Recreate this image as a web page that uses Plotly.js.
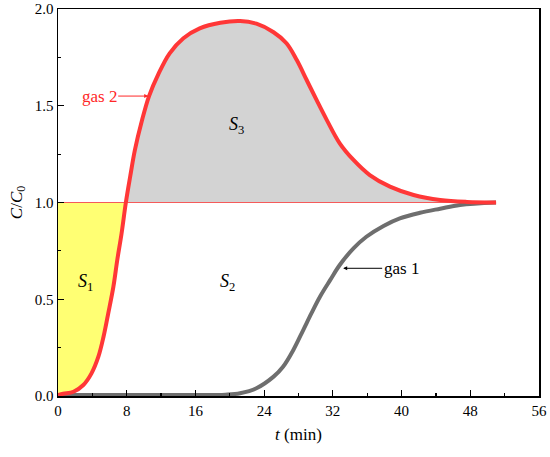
<!DOCTYPE html>
<html>
<head>
<meta charset="utf-8">
<script src="https://cdn.plot.ly/plotly-3.0.1.min.js"></script>
<style>
  body { margin: 0; background: #fff; }
  #graph { width: 550px; height: 457px; }
</style>
</head>
<body>
<div id="graph"></div>
<script>
// gas 2 breakthrough curve (red)
var t2 = [0, 0.6, 1.8, 2.95, 3.9, 4.7, 5.3, 5.85, 6.45, 6.9, 7.4, 7.9, 8.4, 8.95, 9.75, 10.6, 11.7, 13.0, 14.6, 16.5, 18.9, 21.2, 23.1, 25.1, 26.6, 27.8, 28.95, 30.1, 31.3, 32.8, 34.4, 36.3, 38.65, 41.4, 44.5, 47.6, 51.0];
var c2 = [0.005, 0.012, 0.022, 0.057, 0.117, 0.203, 0.306, 0.427, 0.565, 0.703, 0.84, 1.0, 1.133, 1.271, 1.42, 1.55, 1.665, 1.771, 1.849, 1.90, 1.929, 1.938, 1.924, 1.88, 1.823, 1.736, 1.633, 1.53, 1.426, 1.306, 1.22, 1.142, 1.082, 1.039, 1.013, 1.003, 1.0];

// gas 1 breakthrough curve (grey)
var t1 = [0, 8, 16, 19.5, 21.2, 23.1, 25.1, 26.2, 27.4, 28.55, 29.5, 30.5, 31.7, 32.8, 34.4, 35.9, 37.9, 39.8, 42.15, 44.5, 46.8, 51.0];
var c1 = [0.005, 0.005, 0.005, 0.007, 0.014, 0.04, 0.10, 0.151, 0.238, 0.341, 0.427, 0.513, 0.60, 0.677, 0.763, 0.823, 0.879, 0.918, 0.947, 0.968, 0.987, 1.0];

var xTicks = [0, 8, 16, 24, 32, 40, 48, 56];
var yTicks = [0.0, 0.5, 1.0, 1.5, 2.0];
var yTickText = ['0.0', '0.5', '1.0', '1.5', '2.0'];

// index where gas 2 first reaches C/C0 = 1
var iCross = c2.indexOf(1.0);

function drawGraph(){
    var serif = '"Liberation Serif", "Times New Roman", Times, serif';

    // S1: area left of gas 2 curve, below 1
    var s1 = {
        x: t2.slice(0, iCross + 1),
        y: c2.slice(0, iCross + 1),
        mode: 'lines',
        line: {shape: 'spline', width: 0},
        fill: 'tozerox',
        fillcolor: 'rgb(255,255,115)',
        hoverinfo: 'skip'
    };

    // baseline at 1 for S3
    var tTail = t2.slice(iCross);
    var base = {
        x: tTail,
        y: tTail.map(function(){ return 1; }),
        mode: 'lines',
        line: {width: 0},
        hoverinfo: 'skip'
    };
    var s3 = {
        x: tTail,
        y: c2.slice(iCross),
        mode: 'lines',
        line: {shape: 'spline', width: 0},
        fill: 'tonexty',
        fillcolor: 'rgb(211,211,211)',
        hoverinfo: 'skip'
    };

    // thin reference line C/C0 = 1
    var ref = {
        x: [0, t2[t2.length - 1]],
        y: [1, 1],
        mode: 'lines',
        line: {color: 'rgb(245,90,90)', width: 1}
    };

    var gas1 = {
        x: t1,
        y: c1,
        mode: 'lines',
        name: 'gas 1',
        line: {color: 'rgb(110,110,110)', width: 4, shape: 'spline'}
    };
    var gas2 = {
        x: t2,
        y: c2,
        mode: 'lines',
        name: 'gas 2',
        line: {color: 'rgb(255,55,55)', width: 4, shape: 'spline'}
    };

    var graphData = [s1, base, s3, ref, gas1, gas2];

    var layout = {
        width: 550,
        height: 457,
        showlegend: false,
        paper_bgcolor: 'white',
        plot_bgcolor: 'white',
        margin: {l: 58, r: 11, t: 9, b: 61},
        font: {family: serif, size: 14, color: 'black'},
        xaxis: {
            range: [0, 56],
            tickvals: xTicks,
            ticks: 'inside',
            ticklen: 6,
            tickwidth: 1.2,
            tickcolor: 'black',
            minor: {dtick: 4, ticks: 'inside', ticklen: 3, tickwidth: 1.2, tickcolor: 'black'},
            showline: true,
            linecolor: 'black',
            linewidth: 1.5,
            mirror: true,
            showgrid: false,
            zeroline: false,
            tickfont: {family: serif, size: 15},
            title: {text: '<i>t</i> (min)', font: {family: serif, size: 17}, standoff: 10}
        },
        yaxis: {
            range: [0, 2],
            tickvals: yTicks,
            ticktext: yTickText,
            ticks: 'inside',
            ticklen: 6,
            tickwidth: 1.2,
            tickcolor: 'black',
            minor: {dtick: 0.25, ticks: 'inside', ticklen: 3, tickwidth: 1.2, tickcolor: 'black'},
            showline: true,
            linecolor: 'black',
            linewidth: 1.5,
            mirror: true,
            showgrid: false,
            zeroline: false,
            tickfont: {family: serif, size: 15},
            title: {text: '<i>C</i>/<i>C</i><sub>0</sub>', font: {family: serif, size: 17}, standoff: 8}
        },
        annotations: [
            {
                x: 10.5, y: 1.55, xref: 'x', yref: 'y',
                text: 'gas 2', showarrow: true,
                ax: -49, ay: 0,
                arrowhead: 2, arrowsize: 0.8, arrowwidth: 1, arrowcolor: 'rgb(255,40,40)',
                font: {family: serif, size: 17, color: 'rgb(255,40,40)'}
            },
            {
                x: 33.2, y: 0.66, xref: 'x', yref: 'y',
                text: 'gas 1', showarrow: true,
                ax: 58, ay: 0,
                arrowhead: 2, arrowsize: 0.8, arrowwidth: 1, arrowcolor: 'black',
                font: {family: serif, size: 17, color: 'black'}
            },
            {x: 3.15, y: 0.585, xref: 'x', yref: 'y', showarrow: false,
             text: '<i>S</i><sub>1</sub>', font: {family: serif, size: 18}},
            {x: 19.7, y: 0.585, xref: 'x', yref: 'y', showarrow: false,
             text: '<i>S</i><sub>2</sub>', font: {family: serif, size: 18}},
            {x: 20.8, y: 1.40, xref: 'x', yref: 'y', showarrow: false,
             text: '<i>S</i><sub>3</sub>', font: {family: serif, size: 18}}
        ]
    };

    Plotly.newPlot('graph', graphData, layout, {staticPlot: true});
}

drawGraph();
</script>
</body>
</html>
